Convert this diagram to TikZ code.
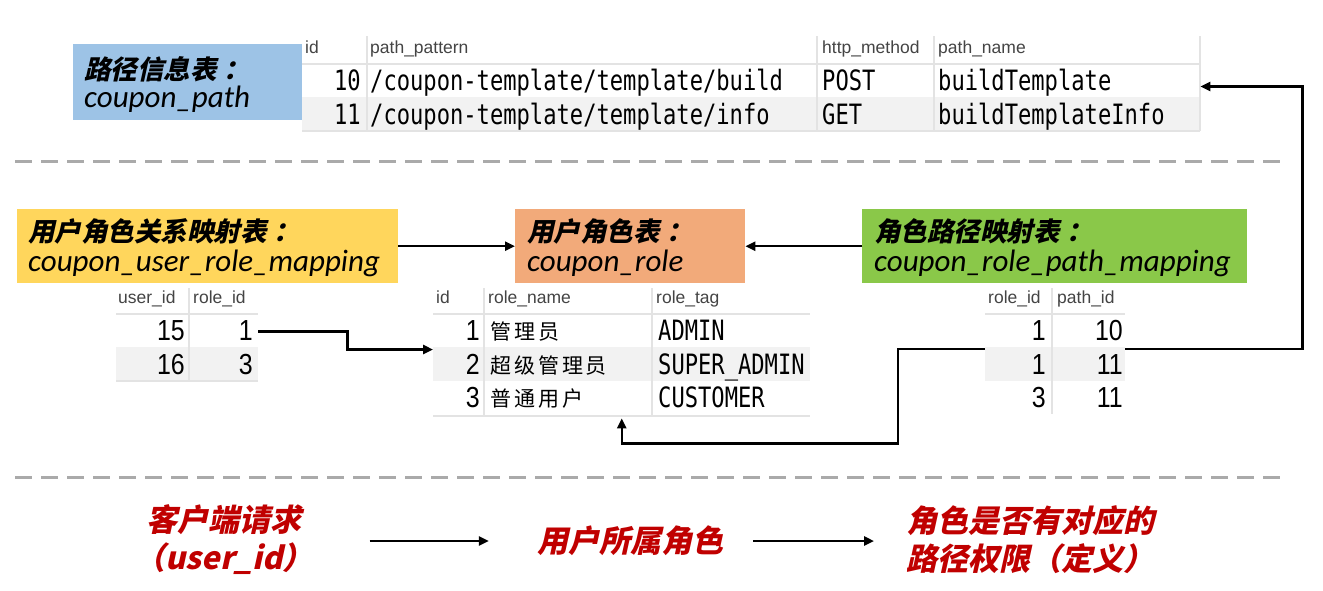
\documentclass[tikz,border=0pt]{standalone}
\usepackage{fontspec}
\setmainfont{Liberation Sans}
\newfontfamily\cjk{Noto Sans CJK SC}[LetterSpace=14]
\newfontfamily\cjkbi{Noto Sans CJK SC}[FakeSlant=0.22]
\newfontfamily\carl{Carlito}
\newfontfamily\mono{DejaVu Sans Mono}[FakeStretch=0.79]
\newfontfamily\numf{Liberation Sans}[FakeStretch=0.86]
\usetikzlibrary{arrows.meta}
\definecolor{bluebox}{HTML}{9DC3E6}
\definecolor{yellowbox}{HTML}{FFD65C}
\definecolor{orangebox}{HTML}{F2AA7A}
\definecolor{greenbox}{HTML}{8AC849}
\definecolor{redtxt}{HTML}{C00000}
\definecolor{rowgray}{HTML}{F2F2F2}
\definecolor{gridc}{HTML}{E3E3E3}
\definecolor{headc}{HTML}{444444}
\definecolor{dashc}{HTML}{AAAAAA}
\newcommand{\tcolon}{\hspace{7pt}：}
\tikzset{
  tbox/.style={draw=none, inner sep=0pt, anchor=north west},
  cjkt/.style={anchor=base west, inner sep=0pt, font=\cjkbi\bfseries\fontsize{26.5}{30}\selectfont},
  ent/.style={anchor=base west, inner sep=0pt, font=\carl\itshape\fontsize{31}{36}\selectfont},
  hdr/.style={anchor=base west, inner sep=0pt, text=headc, font=\fontsize{17.5}{19}\selectfont},
  monot/.style={anchor=base west, inner sep=0pt, font=\mono\fontsize{28}{30}\selectfont},
  monor/.style={anchor=base east, inner sep=0pt, font=\mono\fontsize{28}{30}\selectfont},
  numr/.style={anchor=base east, inner sep=0pt, font=\numf\fontsize{29}{30}\selectfont},
  cjkcell/.style={anchor=base west, inner sep=0pt, font=\cjk\fontsize{21}{24}\selectfont},
  rowbox/.style={draw=none, inner sep=0pt, minimum height=33.5, anchor=north west},
  grid/.style={draw=gridc, line width=1.6pt},
  vsep/.style={draw=gridc, line width=1.2pt},
  conn/.style={draw=black, line width=2.4pt, -{Triangle[length=10pt,width=9pt]}},
  sep/.style={draw=dashc, line width=3pt, dash pattern=on 17pt off 9pt},
  redt/.style={inner sep=0pt, text=redtxt, font=\cjkbi\bfseries\fontsize{31}{36}\selectfont},
}
\begin{document}
\begin{tikzpicture}[x=1pt,y=-1pt]
\useasboundingbox[fill=white] (0,0) rectangle (1323,590);

% ---------- dashed separators ----------
\draw[sep] (15,161) -- (1282,161);
\draw[sep] (15,477) -- (1282,477);

% ---------- path table ----------
\fill[rowgray] (302,97) rectangle (1200,131);
\node[rowbox, minimum width=898] (prow1) at (302,64) {};
\node[rowbox, minimum width=898] (prow2) at (302,97.5) {};
\draw[grid] (302,64) -- (1200,64);
\draw[grid] (302,131) -- (1200,131);
\foreach \x in {367,817,934,1200} \draw[vsep] (\x,36) -- (\x,131);
\node[hdr] (ph1) at (305,53) {id};
\node[hdr] (ph2) at (370,53) {path\_pattern};
\node[hdr] (ph3) at (822,53) {http\_method};
\node[hdr] (ph4) at (938,53) {path\_name};
\node[monor] (p11) at (361,90) {10};
\node[monot] (p12) at (370,90) {/coupon-template/template/build};
\node[monot] (p13) at (822,90) {POST};
\node[monot] (p14) at (938,90) {buildTemplate};
\node[monor] (p21) at (361,124) {11};
\node[monot] (p22) at (370,124) {/coupon-template/template/info};
\node[monot] (p23) at (822,124) {GET};
\node[monot] (p24) at (938,124) {buildTemplateInfo};

% blue title box
\node[tbox, fill=bluebox, minimum width=229, minimum height=76] (pbox) at (73,44) {};
\node[cjkt] (pt1) at (84,79) {路径信息表\tcolon};
\node[ent] (pt2) at (84,107) {coupon\_path};

% ---------- title boxes middle ----------
\node[tbox, fill=yellowbox, minimum width=381, minimum height=74] (ybox) at (17,209) {};
\node[cjkt] (yt1) at (28,241) {用户角色关系映射表\tcolon};
\node[ent] (yt2) at (28,271) {coupon\_user\_role\_mapping};

\node[tbox, fill=orangebox, minimum width=230, minimum height=74] (obox) at (515,209) {};
\node[cjkt] (ot1) at (527,241) {用户角色表\tcolon};
\node[ent] (ot2) at (527,271) {coupon\_role};

\node[tbox, fill=greenbox, minimum width=385, minimum height=74] (gbox) at (862,209) {};
\node[cjkt] (gt1) at (874,241) {角色路径映射表\tcolon};
\node[ent] (gt2) at (874,271) {coupon\_role\_path\_mapping};

\draw[conn] (ybox.east) -- (obox.west);
\draw[conn] (gbox.west) -- (obox.east);

% ---------- user role mapping table ----------
\fill[rowgray] (116,347) rectangle (258,381);
\node[rowbox, minimum width=142] (ur1) at (116,314) {};
\node[rowbox, minimum width=142] (ur2) at (116,347.5) {};
\draw[grid] (116,314) -- (258,314);
\draw[grid] (116,381) -- (258,381);
\draw[vsep] (189,288) -- (189,381);
\node[hdr] (uh1) at (118,303) {user\_id};
\node[hdr] (uh2) at (193,303) {role\_id};
\node[numr] (u11) at (185,340) {15};
\node[numr] (u12) at (253,340) {1};
\node[numr] (u21) at (185,374) {16};
\node[numr] (u22) at (253,374) {3};

% ---------- role table ----------
\fill[rowgray] (433,347) rectangle (810,381);
\node[draw=none, inner sep=0pt, minimum width=377, minimum height=102, anchor=north west] (rtab) at (433,314) {};
\node[rowbox, minimum width=377] (rr2) at (433,347.5) {};
\draw[grid] (433,314) -- (810,314);
\draw[grid] (433,416) -- (810,416);
\foreach \x in {484,652} \draw[vsep] (\x,288) -- (\x,416);
\node[hdr] (rh1) at (436,303) {id};
\node[hdr] (rh2) at (488,303) {role\_name};
\node[hdr] (rh3) at (656,303) {role\_tag};
\node[numr] (r11) at (480,340) {1};
\node[cjkcell] (r12) at (490,339) {管理员};
\node[monot] (r13) at (658,340) {ADMIN};
\node[numr] (r21) at (480,374) {2};
\node[cjkcell] (r22) at (490,373) {超级管理员};
\node[monot] (r23) at (658,374) {SUPER\_ADMIN};
\node[numr] (r31) at (480,407) {3};
\node[cjkcell] (r32) at (490,406) {普通用户};
\node[monot] (r33) at (658,407) {CUSTOMER};

% ---------- role path mapping table ----------
\fill[rowgray] (985,347) rectangle (1125,381);
\node[rowbox, minimum width=140] (rp2) at (985,347.5) {};
\draw[grid] (985,314) -- (1125,314);
\draw[vsep] (1052,288) -- (1052,414);
\node[hdr] (gh1) at (988,303) {role\_id};
\node[hdr] (gh2) at (1057,303) {path\_id};
\node[numr] (g11) at (1046,340) {1};
\node[numr] (g12) at (1123,340) {10};
\node[numr] (g21) at (1046,374) {1};
\node[numr] (g22) at (1123,374) {11};
\node[numr] (g31) at (1046,407) {3};
\node[numr] (g32) at (1123,407) {11};

% ---------- connectors between tables ----------
\draw[conn] ([yshift=-0.5pt]ur1.east) -- ++(89,0) |- ([yshift=-2pt]rr2.north west);
\draw[conn] ([yshift=-1.5pt]rp2.north east) -- ++(177,0) |- ([yshift=-5.5pt]prow1.east);
\draw[conn] ([yshift=-1.5pt]rp2.north west) -- ++(-87,0) -- ++(0,94.5) -| ([yshift=-2pt]rtab.south);

% ---------- bottom flow ----------
\node[redt, align=center] (req) at (224,540) {客户端请求\\[2pt]（user\_id）};
\node[redt] (urole) at (630,541) {用户所属角色};
\node[redt, align=left, anchor=west] (perm) at (906,540) {角色是否有对应的\\[2pt]路径权限（定义）};
\draw[conn] ([xshift=56pt]req.east |- urole.west) -- ([xshift=-48pt]urole.west);
\draw[conn] ([xshift=30pt]urole.east) -- ([xshift=-32pt]perm.west |- urole.west);
\end{tikzpicture}
\end{document}
